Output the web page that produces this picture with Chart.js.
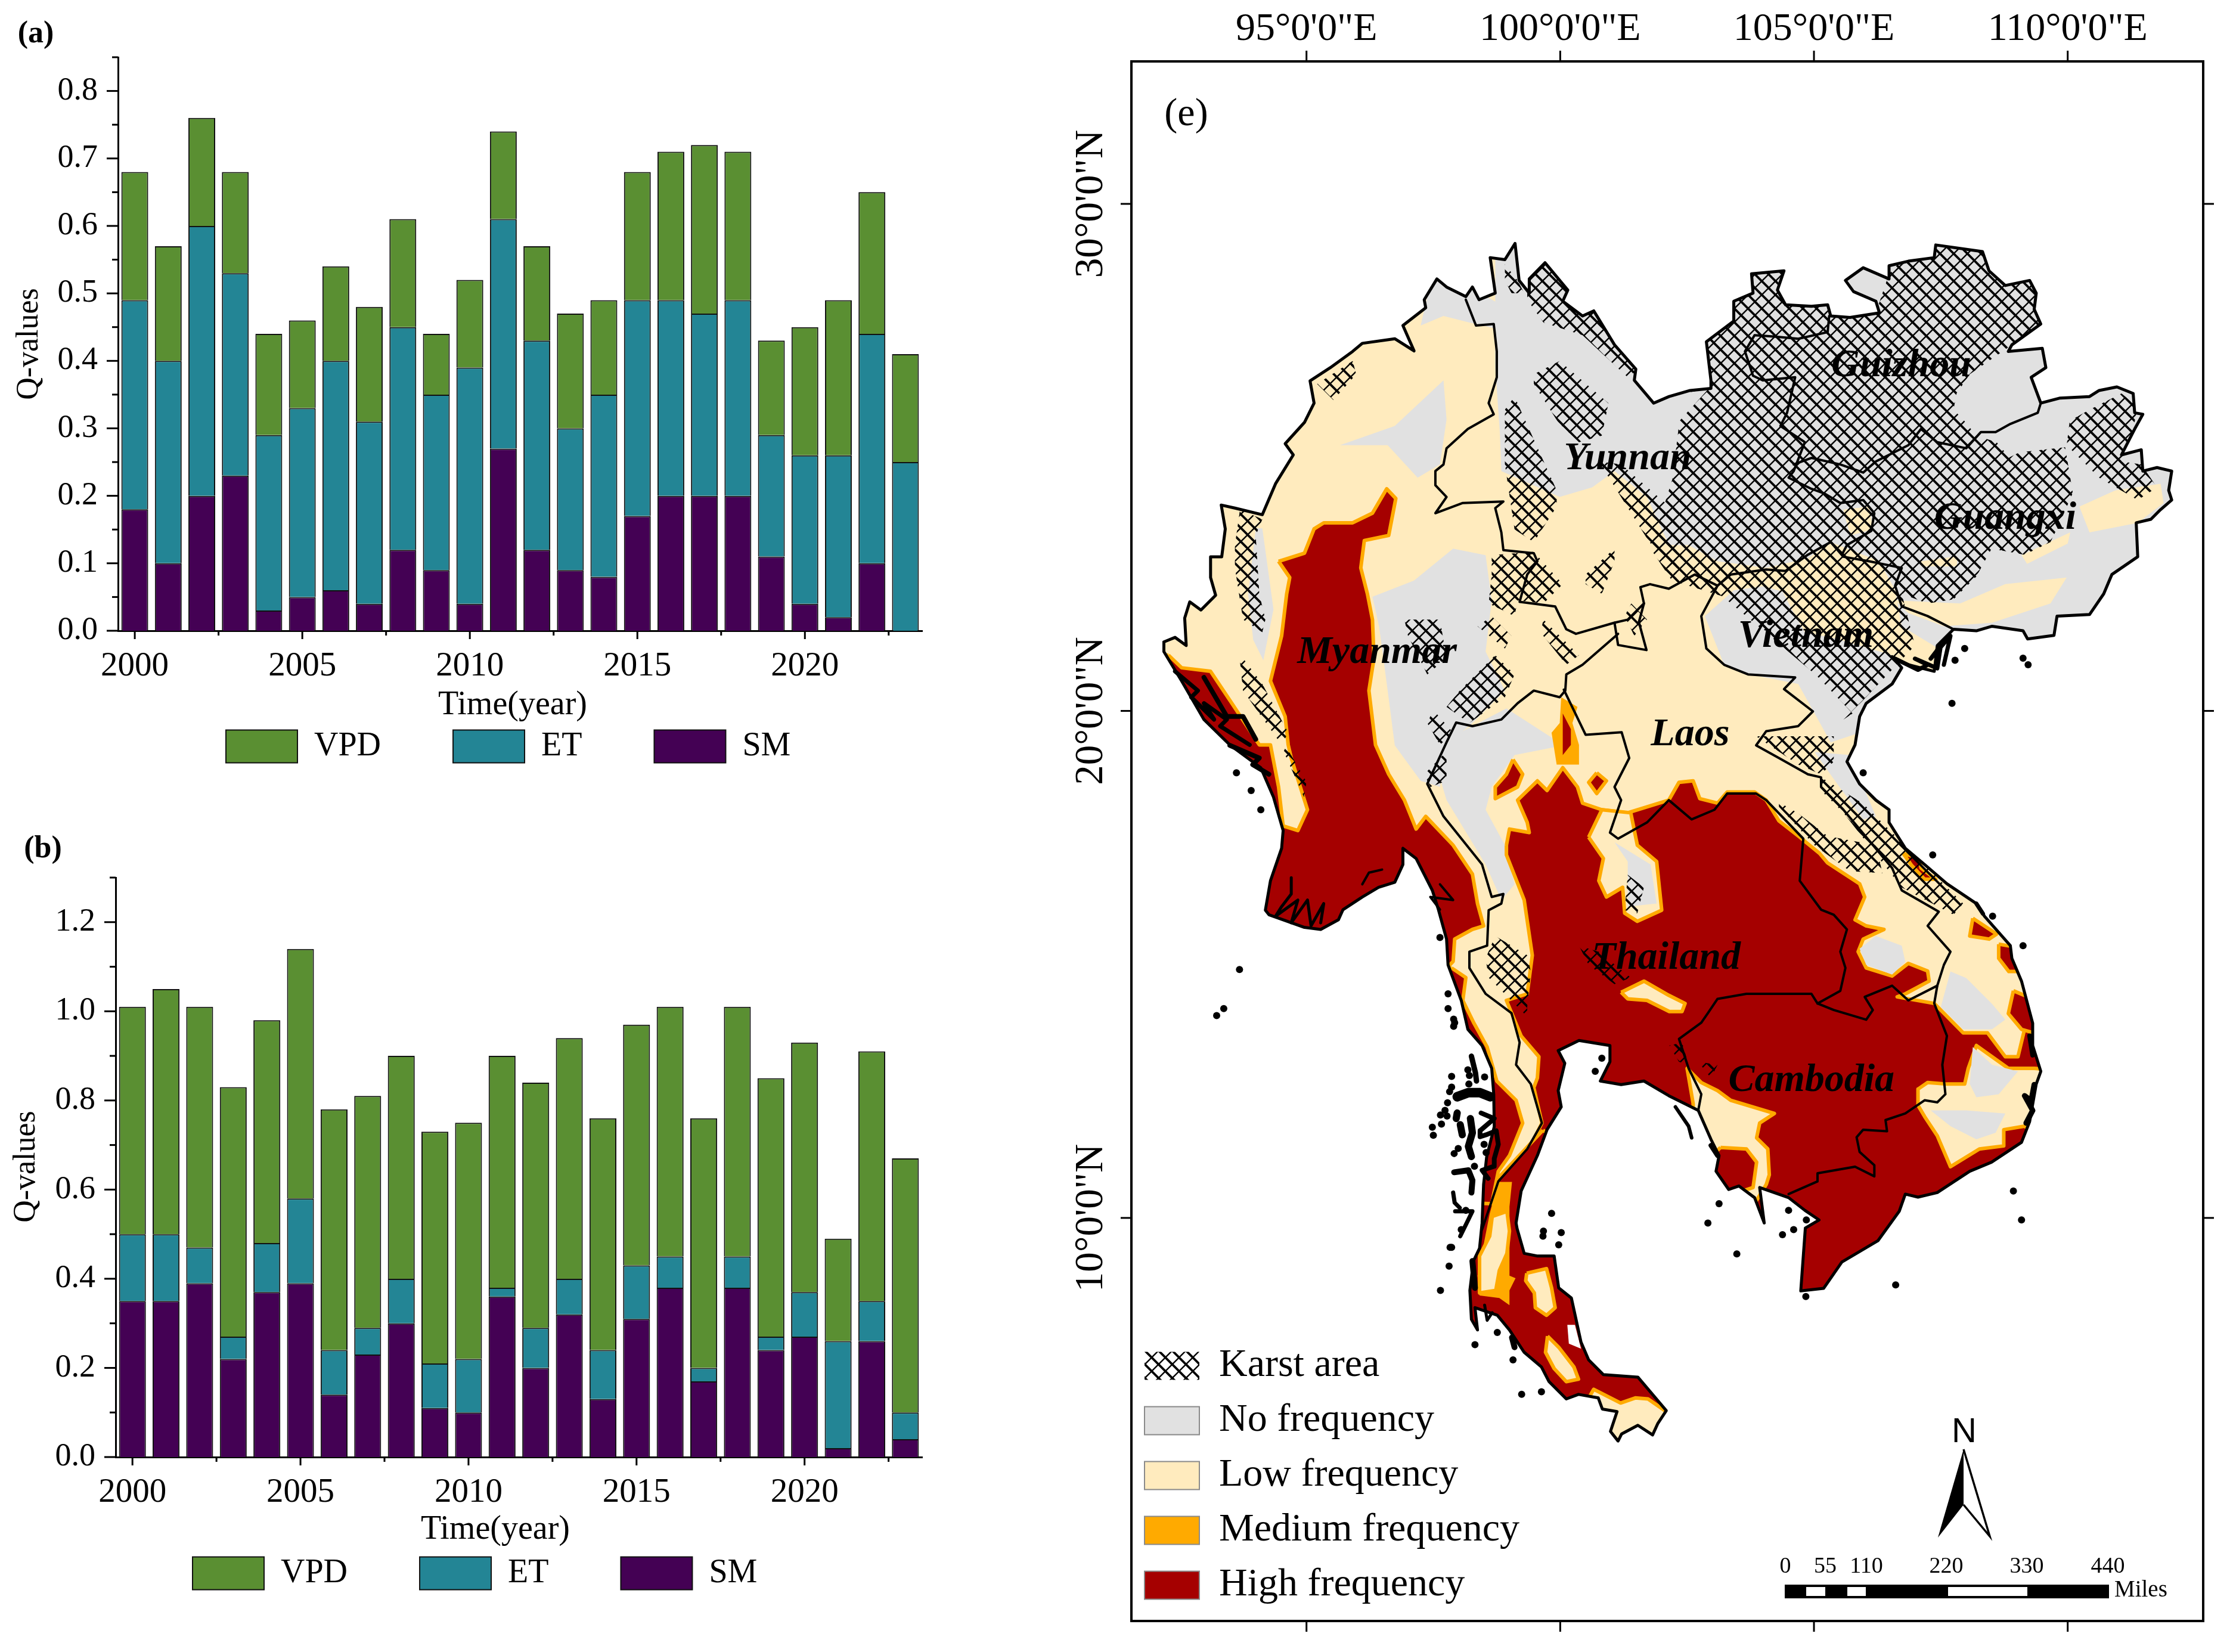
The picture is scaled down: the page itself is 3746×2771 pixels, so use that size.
<!DOCTYPE html>
<html>
<head>
<meta charset="utf-8">
<title>Q-values and drought frequency</title>
<script src="https://cdn.jsdelivr.net/npm/chart.js@4/dist/chart.umd.min.js"></script>
<style>
  html, body { margin: 0; padding: 0; background: #fff; }
  body { width: 3746px; height: 2771px; position: relative; overflow: hidden; }
  canvas { position: absolute; left: 0; top: 0; }
</style>
</head>
<body>
<canvas id="panelA" width="3746" height="2771"></canvas>
<canvas id="panelB" width="3746" height="2771"></canvas>
<canvas id="panelE" width="3746" height="2771"></canvas>
<script>
const years = [2000,2001,2002,2003,2004,2005,2006,2007,2008,2009,2010,2011,2012,2013,2014,2015,2016,2017,2018,2019,2020,2021,2022,2023];

const smA  = [.18,.10,.20,.23,.03,.05,.06,.04,.12,.09,.04,.27,.12,.09,.08,.17,.20,.20,.20,.11,.04,.02,.10,0];
const etA  = [.31,.30,.40,.30,.26,.28,.34,.27,.33,.26,.35,.34,.31,.21,.27,.32,.29,.27,.29,.18,.22,.24,.34,.25];
const vpdA = [.19,.17,.16,.15,.15,.13,.14,.17,.16,.09,.13,.13,.14,.17,.14,.19,.22,.25,.22,.14,.19,.23,.21,.16];

const smB  = [.35,.35,.39,.22,.37,.39,.14,.23,.30,.11,.10,.36,.20,.32,.13,.31,.38,.17,.38,.24,.27,.02,.26,.04];
const etB  = [.15,.15,.08,.05,.11,.19,.10,.06,.10,.10,.12,.02,.09,.08,.11,.12,.07,.03,.07,.03,.10,.24,.09,.06];
const vpdB = [.51,.55,.54,.56,.50,.56,.54,.52,.50,.52,.53,.52,.55,.54,.52,.54,.56,.56,.56,.58,.56,.23,.56,.57];

// map outlines, [lon, lat]
const landOutline = [
  [92.19,21.36],[92.41,21.45],[92.63,21.29],[92.6,21.83],[92.7,22.15],[92.92,21.99],[93.21,22.28],[93.11,22.63],[93.11,23.04],[93.33,23.04],[93.4,23.59],[93.32,24.06],[93.59,24.0],[94.13,23.87],[94.39,24.48],[94.74,25.05],[94.58,25.27],[94.96,25.69],[95.15,26.07],[95.07,26.51],[95.47,26.77],[95.91,27.09],[96.1,27.25],[96.74,27.34],[97.12,27.1],[96.9,27.6],[97.35,27.95],[97.32,28.11],[97.57,28.52],[97.76,28.36],[98.14,28.17],[98.27,28.36],[98.4,28.11],[98.72,28.24],[98.62,28.94],[98.91,28.9],[99.11,29.22],[99.19,28.49],[99.39,28.24],[99.39,28.52],[99.7,28.84],[100.15,28.3],[100.05,28.08],[100.44,27.79],[100.66,27.89],[101.07,27.22],[101.49,26.74],[101.46,26.52],[101.84,26.07],
  [102.145,26.2],[102.56,26.32],[102.97,26.36],[102.97,26.52],[102.88,27.28],[103.42,27.69],[103.42,28.08],[103.8,28.24],[103.77,28.62],[104.41,28.68],[104.28,28.3],[104.44,28.01],[104.95,27.98],[105.27,28.01],[105.33,27.79],[105.71,27.76],[106.29,27.85],[106.22,28.08],[105.78,28.27],[105.62,28.49],[105.97,28.74],[106.48,28.52],[106.48,28.78],[106.86,28.87],[107.37,28.94],[107.4,29.19],[108.32,29.06],[108.45,28.68],[108.77,28.39],[109.25,28.49],[109.38,28.24],[109.34,27.92],[109.47,27.63],[108.9,27.22],[108.83,27.09],[109.5,27.15],[109.57,26.77],[109.28,26.58],[109.47,26.07],[109.85,26.17],[110.43,26.2],[110.62,26.32],[110.97,26.39],[111.29,26.26],[111.32,25.88],[111.48,25.85],[111.32,25.56],[111.06,25.05],[111.45,25.15],[111.48,24.73],[111.76,24.8],[112.05,24.73],[111.99,24.35],[112.05,24.16],[111.83,23.97],[111.64,23.78],[111.35,23.71],[111.38,23.04],[110.87,22.69],[110.71,22.31],[110.43,21.9],[109.79,21.87],[109.73,21.49],[109.21,21.42],[109.12,21.58],[108.51,21.67],[108.2,21.58],[107.75,21.61],[107.43,21.29],[107.37,20.78],[106.86,20.91],[106.54,21.07],[106.73,20.85],[106.54,20.53],[106.03,20.15],[105.9,19.89],[105.81,19.33],
  [105.65,19.0],[105.9,18.56],[106.22,18.24],[106.48,18.05],[106.48,17.8],[106.8,17.29],[107.18,16.97],[107.62,16.59],[108.2,16.2],[108.36,15.95],[108.87,15.37],[108.9,15.12],[109.09,14.67],[109.31,13.84],[109.31,13.4],[109.47,12.89],[109.38,12.64],[109.25,11.9],[109.09,11.49],[108.5,11.1],[108.07,10.92],[107.43,10.5],[107.05,10.41],[106.8,10.47],[106.68,10.13],[106.26,9.55],[105.55,9.13],[105.19,8.61],[104.74,8.56],[104.83,9.8],[105.1,9.96],[104.82,10.15],[104.5,10.4],[103.93,10.6],[104.02,9.9],[103.83,10.4],[103.52,10.63],[103.32,10.56],[103.07,10.92],[103.13,11.23],[102.97,11.55],[102.72,12.12],[102.14,12.41],
  [101.65,12.7],[101.2,12.63],[100.79,12.7],[100.98,13.08],[100.98,13.4],[100.37,13.5],[99.96,13.3],[100.09,13.05],[99.96,12.51],[100.02,12.19],[99.74,11.74],[99.55,11.23],[99.23,10.53],[99.13,9.9],[99.15,9.79],[99.29,9.3],[99.54,9.25],[99.88,9.25],[99.97,8.62],[100.22,8.42],[100.41,7.55],[100.56,7.2],[100.85,6.91],[101.53,6.86],[102.09,6.2],[101.92,5.94],[101.82,5.72],[101.53,5.91],[101.21,5.74],[101.14,5.6],[100.99,5.79],[101.12,6.18],[100.83,6.23],[100.75,6.45],[100.36,6.52],[100.12,6.43],[99.78,6.77],[99.63,7.06],[99.29,7.35],[99.0,7.79],[98.76,8.08],[98.32,8.23],[98.37,7.79],[98.25,8.0],[98.22,8.57],[98.29,9.15],[98.41,9.4],[98.46,9.9],[98.49,10.66],[98.55,11.2],[98.7,11.8],[98.69,12.44],
  [98.65,12.95],[98.46,13.4],[98.18,13.72],[98.05,14.29],[97.79,14.99],[97.76,15.5],[97.6,16.08],[97.48,16.46],[97.16,17.09],[96.9,17.29],[96.9,16.97],[96.74,16.62],[96.42,16.52],[96.1,16.33],[95.72,16.08],[95.63,15.88],[95.28,15.69],[94.96,15.73],[94.26,15.98],[94.19,16.07],[94.29,16.65],[94.51,17.29],[94.54,17.64],[94.35,18.3],[94.1,18.88],[93.49,19.33],[92.98,19.83],[92.54,20.59],[92.19,21.17]
];
const countryLines = [
  [[98.14,28.11],[98.34,27.6],[98.69,27.63],[98.75,27.09],[98.75,26.58],[98.59,26.07],[98.69,25.85],[98.18,25.56],[97.76,25.18],[97.7,24.86],[97.54,24.73],[97.54,24.45],[97.76,24.22],[97.54,23.9],[98.08,24.1],[98.88,24.13],[98.72,24.0],[98.84,23.52],[98.88,23.17],[99.48,23.11],[99.55,22.95],[99.35,22.69],[99.2,22.15],[99.9,22.06],[100.12,21.61],[100.31,21.52],[101.07,21.74],[101.33,21.8],[101.65,22.12],[101.58,22.44],[101.77,22.5],[102.14,22.41],[102.65,22.69],[103.1,22.47],[103.36,22.69],[104.06,22.79],[104.44,22.76],[104.88,23.08],[105.33,23.33],[105.58,23.04],[106.09,22.95],[106.73,22.82],[106.6,22.47],[106.73,22.06],[107.24,21.87],[107.75,21.61]],
  [[101.07,21.74],[101.14,21.3],[101.7,21.2],[101.55,21.75],[101.65,22.12]],
  [[101.14,21.52],[100.44,20.91],[100.12,20.72],[100.1,20.4],[99.99,20.27],[99.48,20.4],[99.16,20.15],[98.84,19.83],[98.27,19.7],[97.95,19.77],[97.76,19.38],[97.38,18.56],[97.7,17.92],[98.46,16.97],[98.65,16.33],[98.88,16.39],[98.84,16.2],[98.59,16.07],[98.56,15.37],[98.21,15.25],[98.21,14.93],[98.53,14.42],[99.04,14.04],[99.2,13.46],[99.13,13.02],[99.42,12.64],[99.64,11.87],[99.35,11.36],[98.78,10.72],[98.46,9.77]],
  [[100.07,20.42],[100.5,19.53],[101.21,19.58],[101.36,19.07],[101.07,18.5],[101.2,18.24],[100.98,17.6],[101.14,17.48],[101.71,17.8],[102.14,18.24],[102.59,17.86],[103.04,18.05],[103.29,18.37],[103.86,18.37],[104.06,18.24],[104.79,17.48],[104.72,16.65],[105.14,16.08],[105.39,15.98],[105.65,15.69],[105.52,15.25],[105.62,14.93],[105.52,14.48],[105.07,14.23]],
  [[105.07,14.23],[104.95,14.42],[103.67,14.42],[103.1,14.32],[102.91,14.04],[102.78,13.85],[102.34,13.53],[102.53,12.95],[102.78,12.44],[102.72,12.12]],
  [[105.07,14.23],[105.39,14.1],[106.03,13.91],[106.16,14.1],[106.0,14.36],[106.54,14.58],[106.86,14.29],[107.43,14.58]],
  [[107.43,14.58],[107.56,14.99],[107.69,15.25],[107.24,15.76],[107.46,16.04],[107.18,16.2],[106.73,16.46],[106.54,16.9],[105.58,18.05],[105.14,18.5],[105.14,18.69],[104.88,18.75],[104.31,19.07],[103.86,19.32],[104.06,19.6],[104.69,19.7],[104.98,19.99],[104.41,20.43],[104.63,20.66],[103.7,20.72],[103.23,20.91],[102.88,21.23],[102.78,21.87],[103.1,22.47]],
  [[107.43,14.58],[107.37,14.23],[107.62,13.59],[107.53,13.02],[107.59,12.44],[107.43,12.28],[107.18,12.32],[106.8,12.06],[106.41,11.93],[106.44,11.71],[105.97,11.74],[105.84,11.59],[105.9,11.3],[106.19,11.04],[106.19,10.82],[105.81,11.01],[105.07,10.88],[105.07,10.72],[104.5,10.47]],
  [[105.3,27.79],[105.27,27.47],[104.69,27.34],[104.25,27.38],[103.83,27.41],[103.64,27.09],[103.8,26.61],[103.99,26.52],[104.63,26.58],[104.47,25.88],[104.34,25.62],[104.82,25.3],[104.6,24.73],[104.5,24.6],[104.95,24.38],[105.2,24.29],[105.52,24.1],[105.97,24.16],[106.19,23.9],[106.13,23.55],[105.65,23.27],[105.55,23.08]],
  [[104.6,24.86],[104.95,24.99],[105.52,24.86],[105.97,24.7],[106.22,24.92],[106.86,25.24],[107.11,25.56],[107.43,25.3],[108.0,25.18],[108.29,25.5],[108.58,25.5],[108.87,25.66],[109.41,25.88],[109.47,26.07]]
];
const noFreqAreas = [
  [[98.72,29.6],[98.72,26.77],[98.81,25.5],[98.84,24.73],[99.99,24.22],[100.63,24.41],[101.07,24.73],[101.71,24.22],[102.14,23.27],[102.53,23.27],[103.1,22.95],[104.06,22.82],[104.88,23.01],[105.33,23.33],[106.29,22.95],[106.6,22.38],[106.73,21.67],[108,20.9],[113,21],[113,29.6]],
  [[102.85,21.87],[103.42,22.38],[104.31,22.5],[104.57,21.99],[104.82,21.55],[105.46,21.42],[106.54,21.1],[106.8,20.85],[106.54,20.27],[105.9,19.57],[105.33,19.38],[104.69,20.53],[103.74,20.72],[103.23,20.91]],
  [[105.01,19.19],[105.71,19.13],[106.22,17.92],[105.97,17.86],[105.46,18.56]],
  [[96.3,22.25],[97.12,22.57],[97.89,23.2],[98.53,23.07],[98.65,22.18],[98.53,21.17],[98.91,20.4],[98.27,19.76],[97.76,19.33],[97.63,18.5],[97.25,18.62],[96.74,19.32],[96.6,20.4],[96.43,21.67]],
  [[95.66,25.24],[96.74,25.62],[97.7,26.52],[97.76,25.75],[97.63,24.86],[97.19,24.6],[96.6,25.24]],
  [[97.25,27.6],[97.38,28.17],[97.63,28.62],[98.21,28.36],[98.78,28.04],[98.78,27.53],[98.21,27.66],[97.7,27.79]],
  [[94.0,23.6],[94.13,23.6],[94.35,22.0],[94.15,21.0],[93.95,21.4],[93.85,22.3]],
  [[97.44,19.32],[97.76,18.24],[98.53,16.97],[98.84,16.27],[99.1,16.58],[98.91,17.35],[98.53,18.05],[98.65,18.5],[99.1,19.13],[100.07,19.32],[98.94,20.05],[97.94,19.53]]
];
const lowOnGrey = [
  [[110.23,24.03],[110.94,24.35],[111.83,24.48],[111.89,24.1],[111.38,23.71],[110.43,23.52]],
  [[106.6,22.18],[107.88,22.12],[108.77,22.5],[109.98,22.63],[109.66,22.12],[108.51,21.74],[107.56,21.67],[106.86,21.93]],
  [[107.11,22.95],[107.82,23.05],[107.82,22.85],[107.11,22.85]],
  [[109.09,23.07],[109.79,23.4],[110.05,23.52],[110.0,23.3],[109.2,22.9]],
  [[103.61,22.57],[104.82,22.95],[105.52,22.95],[106.22,22.31],[106.6,21.67],[106.6,21.23],[106.09,21.23],[105.46,21.55],[104.82,21.8],[104.57,22.31],[104.06,22.44]],
  [[105.58,23.97],[106.09,24.03],[106.16,23.58],[105.71,23.46]]
];
const highAreas = [
  [[94.45,22.95],[94.96,23.11],[95.15,23.59],[95.34,23.71],[95.91,23.71],[96.3,23.9],[96.58,24.38],[96.76,24.19],[96.62,23.46],[96.14,23.36],[96.07,22.82],[96.2,22.31],[96.3,21.8],[96.33,21.04],[96.23,20.4],[96.36,19.33],[96.62,18.75],[96.93,18.24],[97.16,17.67],[97.35,17.92],[97.89,17.35],[98.27,16.78],[98.37,16.2],[98.49,15.76],[98.27,15.69],[97.92,15.5],[97.89,15.06],[97.7,14.86],[96.62,15.5],[94.07,15.5],[93.94,16.77],[94.07,17.22],[94.54,17.73],[94.83,17.64],[95.02,18.05],[94.7,19.07],[94.64,19.33],[94.58,19.89],[94.29,20.59],[94.51,21.48],[94.61,22.31],[94.67,22.63]],
  [[92.28,21.1],[92.54,20.85],[93.11,20.78],[93.49,20.21],[94.07,19.33],[94.29,19.33],[94.45,18.5],[94.54,17.73],[94.0,17.8],[93,18.5],[92,20.5],[92,21.1]],
  [[98.94,17.35],[99.0,17.67],[99.39,17.6],[99.35,17.8],[99.16,18.24],[99.55,18.62],[99.74,18.43],[100.05,18.88],[100.34,18.5],[100.44,18.18],[100.82,18.05],[101.33,17.99],[102.14,18.24],[102.34,18.59],[102.62,18.62],[102.75,18.27],[103.1,18.18],[103.29,18.4],[103.83,18.4],[104.06,18.24],[104.31,17.83],[104.72,17.51],[105.11,17.19],[105.27,17.0],[105.9,16.59],[106.0,16.33],[105.81,15.88],[106.03,15.76],[106.38,15.69],[105.97,15.5],[105.87,15.25],[106.03,14.93],[106.54,14.77],[106.86,15.02],[107.24,14.87],[107.27,14.67],[106.8,14.42],[106.64,14.36],[107.37,14.23],[107.94,13.65],[108.42,13.65],[108.77,13.18],[109.02,13.18],[109.15,13.72],[110.1,13.27],[110.1,12.89],[109.34,12.95],[108.83,12.95],[108.2,13.4],[108.04,12.95],[107.97,12.64],[107.62,12.64],[107.24,12.67],[107.05,12.54],[107.05,12.22],[107.18,12.0],[107.43,11.62],[107.69,11.01],[108.26,11.36],[108.74,11.42],[108.74,11.74],[109.15,11.81],[109.79,11.36],[109.79,8.5],[104,8],[103.6,9.9],[104.06,10.66],[104.12,10.85],[104.09,11.36],[103.87,11.58],[103.93,11.87],[104.22,12.06],[103.36,12.32],[103.1,12.51],[102.78,12.67],[102.5,12.95],[102.62,12.25],[102.62,12.0],[100.3,12.0],[99.9,11.2],[99.4,10.2],[99.0,10.2],[99.1,10.4],[99.1,10.79],[99.35,11.3],[99.64,11.87],[99.48,12.57],[99.55,12.76],[99.58,13.18],[99.23,13.59],[98.94,14.29],[99.35,14.42],[99.45,15.18],[99.29,16.27],[98.94,17.16]],
  [[99.66,11.73],[100.27,11.3],[100.27,8.86],[101.24,7.4],[102.46,6.28],[102.09,6.18],[101.73,6.43],[101.48,6.45],[101.19,6.35],[100.66,6.62],[100.27,5.94],[98.8,6.9],[98.07,7.9],[98.07,9.35],[98.07,10.81],[98.46,10.9],[98.8,10.81]],
  [[97.86,14.93],[98.14,14.74],[98.08,14.29],[98.3,13.84],[98.56,13.37],[98.75,12.7],[99.13,12.32],[99.26,11.87],[99.0,11.23],[98.78,10.92],[98.65,10.28],[98,10.3],[97.5,13],[97.3,15]],
  [[103.16,11.39],[103.67,11.36],[103.87,11.1],[103.8,10.6],[103.23,10.41],[102.78,11.04]],
  [[106.76,17.19],[107.08,17.09],[107.11,16.9],[107.4,16.68],[107.18,16.68],[106.92,16.96]],
  [[108.13,15.91],[108.6,15.6],[108.45,15.5],[108.07,15.56]],
  [[108.64,15.4],[109.2,15.3],[109.1,14.86],[108.84,14.86],[108.64,15.12]],
  [[108.93,14.48],[109.6,14.2],[109.5,13.6],[109.09,13.72],[108.83,14.03]],
  [[99.07,19.04],[99.26,18.75],[99.16,18.5],[98.72,18.27],[98.72,18.5],[98.94,18.75]],
  [[100.72,18.78],[100.91,18.62],[100.72,18.37],[100.56,18.59]]
];
const mediumAreas = [
  [[98.78,10.71],[99.05,10.71],[99.0,10.22],[99,9.35],[99.0,8.86],[99.12,8.81],[99,8.57],[99,8.28],[98.8,8.42],[98.41,8.47],[98.37,8.86],[98.61,10.08]],
  [[100.02,20.27],[100.34,20.08],[100.24,19.76],[100.37,19.33],[100.37,18.94],[99.93,18.94],[99.83,19.57],[99.99,19.76]]
];
const highInner = [
  [[100.05,19.95],[100.21,19.64],[100.21,19.33],[100.05,19.13],[100.05,19.51]]
];
const lowInHigh = [
  [[98.66,10.03],[98.95,10.13],[99.0,9.74],[98.95,9.3],[98.8,8.96],[98.73,8.57],[98.41,8.52],[98.41,9.25],[98.61,9.64]],
  [[99.34,8.91],[99.73,9.0],[99.83,8.62],[99.9,8.23],[99.73,8.08],[99.51,8.23],[99.49,8.52],[99.32,8.76]],
  [[99.75,7.67],[99.97,7.45],[100.27,7.06],[100.36,6.82],[100.12,6.77],[99.88,7.03],[99.71,7.35]],
  [[100.56,17.51],[100.85,17.09],[100.76,16.65],[100.91,16.33],[101.23,16.52],[101.27,16.01],[101.52,15.85],[102.0,16.07],[101.9,17.03],[101.52,17.35],[101.39,17.99],[100.82,18.05]],
  [[101.2,14.45],[101.65,14.67],[102.14,14.39],[102.46,14.23],[102.4,14.07],[102.15,14.07],[101.71,14.29],[101.33,14.32]]
];
const noFreqPatches = [
  [[101.07,17.41],[101.78,16.97],[101.9,16.2],[101.33,16.14],[101.33,17.03]],
  [[105.9,15.31],[106.22,15.56],[106.73,15.37],[106.8,15.05],[106.54,14.8],[106.03,14.99]],
  [[107.69,14.86],[108.0,14.73],[108.51,14.22],[108.77,13.91],[108.51,13.72],[107.94,13.72],[107.5,14.16]],
  [[108.13,13.37],[108.51,13.02],[109.02,12.89],[108.64,12.44],[108.2,12.38],[108.07,12.64]],
  [[107.3,12.12],[108.0,12.12],[108.77,12.06],[108.58,11.68],[108.2,11.55],[107.69,11.81]]
];
const noDataPatch = [[100.14,7.89],[100.29,7.89],[100.41,7.42],[100.17,7.52]];
const karstAreas = [
  [[102.4,26.26],[102.78,27.73],[103.61,28.94],[104.69,28.94],[105.46,27.92],[106.22,27.85],[106.35,28.24],[106.48,28.62],[107.24,29.45],[109.79,29.45],[109.79,27.73],[108.9,27.22],[108.07,26.64],[107.81,26.26],[107.75,25.94],[107.94,25.75],[108.2,25.43],[108.6,25.3],[108.85,25.0],[109.05,25.1],[109.95,25.2],[110.1,24.3],[109.85,23.72],[109.66,23.33],[109.15,23.08],[108.5,23.2],[108.2,22.65],[107.75,22.2],[107.24,22.12],[106.73,22.31],[106.99,21.29],[105.97,20.21],[105.58,19.83],[105.76,19.95],[105.05,20.7],[104.2,21.42],[103.2,22.26],[102.2,22.57],[101.78,23.2],[102.21,24.57],[102.35,25.72],[102.92,26.35]],
  [[110.04,25.72],[110.43,25.94],[111.06,26.26],[111.38,26.0],[111.25,25.37],[111.06,24.92],[111.45,24.86],[111.76,24.41],[111.38,24.16],[110.62,24.6],[109.98,25.24]],
  [[99.35,28.49],[99.74,28.94],[100.18,28.3],[100.44,27.85],[100.69,27.92],[101.52,26.71],[101.33,26.58],[100.44,27.41],[99.67,27.66],[99.35,28.11]],
  [[99.48,26.64],[99.99,26.9],[100.95,26.07],[100.82,25.43],[100.37,25.3],[99.96,25.69],[99.48,26.45]],
  [[98.91,28.81],[99.16,28.49],[99.29,28.24],[99.04,28.24],[98.91,28.49]],
  [[98.91,25.94],[99.1,26.2],[99.93,24.35],[99.93,24.03],[99.48,23.33],[99.1,23.58],[98.91,24.86]],
  [[100.76,24.92],[101.2,24.86],[102.3,23.9],[102.3,22.6],[101.71,23.4]],
  [[98.65,23.07],[99.48,23.14],[100.05,22.5],[99.67,22.12],[99.16,22.18],[99.1,21.87],[98.59,22.12],[98.65,22.69]],
  [[98.37,21.67],[98.65,21.87],[99.04,21.48],[98.91,21.23]],
  [[98.72,21.1],[99.1,20.72],[98.91,20.27],[98.21,19.76],[97.76,20.08],[98.02,20.4]],
  [[97.5,20.02],[97.89,19.57],[97.63,19.33],[97.38,19.76]],
  [[96.93,21.8],[97.63,21.8],[97.76,21.04],[97.38,20.72],[97,21.48]],
  [[100.5,22.69],[101.07,23.2],[101.07,22.95],[100.82,22.31],[100.5,22.5]],
  [[99.67,21.8],[100.37,21.1],[100.12,20.91],[99.61,21.55]],
  [[101.4,22.12],[101.71,21.8],[101.46,21.48],[101.27,21.87]],
  [[93.69,23.97],[94.13,23.78],[94.0,23.46],[94.07,22.31],[94.19,21.8],[94.13,21.55],[93.75,21.8],[93.59,22.82],[93.59,23.27]],
  [[93.75,21.04],[94.13,20.53],[94.64,19.57],[94.51,19.33],[93.75,20.4],[93.69,20.97]],
  [[94.6,19.3],[95.0,18.6],[94.95,18.3],[94.55,19.2]],
  [[95.21,26.45],[95.91,26.9],[95.98,26.64],[95.53,26.13]],
  [[104.31,18.2],[104.69,17.98],[105.27,17.53],[106.22,17.35],[106.35,16.8],[105.71,16.84],[105.27,17.16],[105.01,17.35],[104.31,18.11]],
  [[105.14,18.69],[105.97,18.17],[106.41,17.73],[107.94,16.2],[107.75,15.98],[106.73,16.52],[105.58,17.99],[105.14,18.43]],
  [[103.86,19.5],[105.39,19.5],[105.39,19.0],[105.14,18.75],[104.69,18.94]],
  [[98.53,15.12],[98.72,15.56],[99.35,15.18],[99.42,14.86],[99.35,14.16],[99.35,13.97],[98.59,14.74]],
  [[100.37,15.37],[100.76,15.25],[101.39,14.74],[101.07,14.61],[100.56,14.99]],
  [[101.33,16.77],[101.65,16.52],[101.52,16.01],[101.27,16.07]],
  [[102.15,13.4],[102.4,13.46],[102.53,13.02],[102.34,13.08]],
  [[102.72,13.08],[103.1,13.02],[102.97,12.76]],
  [[97.32,18.75],[97.76,19.2],[97.76,18.62],[97.44,18.5]]
];
// small islands and broken coast, drawn as short thick chains
const coastClutterWidths = [7,8,8,5,4,4,9,16,12,12,12,8,10,7,7,10,5,10,6,8,7,9,8,7];
const coastClutter = [
  [[92.41,20.78],[92.86,20.4],[92.73,20.27],[93.18,19.83],[92.98,20.15],[93.43,19.83],[93.3,19.7],[93.88,19.33]],
  [[92.98,20.66],[93.43,19.89],[93.75,19.89],[94.0,19.44]],
  [[93.49,19.32],[94.07,19.07],[93.94,18.94],[94.26,18.75]],
  [[94.7,16.71],[94.7,16.39],[94.51,16.14],[94.39,15.95],[94.83,16.27],[94.7,15.82],[95.02,16.27],[95.09,15.76],[95.34,16.2],[95.28,15.82]],
  [[96.1,16.58],[96.23,16.81],[96.49,16.87]],
  [[97.63,16.58],[97.89,16.27],[97.44,16.33],[97.63,16.08]],
  [[98.25,13.19],[98.33,12.86],[98.35,12.7]],
  [[97.97,12.39],[98.19,12.47],[98.42,12.47],[98.62,12.39]],
  [[97.97,12.07],[97.95,11.96]],
  [[98.03,11.84],[98.07,11.64]],
  [[98.23,11.96],[98.27,11.68],[98.19,11.41],[98.25,11.21]],
  [[98.44,12.07],[98.7,11.96],[98.42,11.72],[98.42,11.6],[98.54,11.64],[98.74,11.72],[98.78,11.45],[98.7,11.17],[98.7,11.02],[98.46,10.94],[98.58,10.78]],
  [[97.91,10.9],[98.19,10.94],[98.27,10.74],[98.25,10.5]],
  [[97.89,10.5],[97.92,10.3],[98.02,10.2]],
  [[97.93,10.13],[98.27,10.13],[98.03,9.64]],
  [[98.27,9.15],[98.32,8.62]],
  [[98.51,8.28],[98.56,7.98],[98.66,8.13]],
  [[99.05,7.64],[99.1,7.45]],
  [[102.27,12.19],[102.53,11.81],[102.59,11.58]],
  [[102.97,11.43],[103.1,11.23]],
  [[106.6,21.03],[107.05,20.81],[107.24,20.91],[106.99,21.03],[107.43,20.84],[107.5,21.29],[107.3,21.03],[107.69,21.48],[107.56,20.91]],
  [[109.34,12.63],[109.28,12.31],[109.15,12.41],[109.31,12.12],[109.18,11.87]],
  [[109.25,13.59],[109.31,13.21]],
  [[108.2,16.2],[108.33,16.0]]
];
const islands = [
  [93.68,14.9],[93.37,14.13],[93.23,13.99],[97.63,15.53],[97.79,14.42],[97.79,14.13],[97.92,13.85],[97.9,13.92],[97.9,13.78],[97.86,12.79],[97.82,12.49],[97.86,12.58],[97.78,12.27],[97.73,12.12],[97.64,12.03],[97.77,12.01],[97.66,11.85],[97.48,11.79],[97.5,11.63],[98.18,12.92],[98.21,12.81],[98.2,12.64],[98.51,12.78],[97.99,11.37],[97.91,11.27],[98.54,11.29],[98.5,11.45],[98.31,11.02],[98.14,10.15],[98.05,9.77],[97.83,9.42],[99.83,10.09],[99.67,9.74],[100.02,9.71],[100.82,13.15],[100.69,12.89],[93.91,18.43],[94.1,18.05],[93.62,18.78],[97.86,9.42],[97.81,9.05],[97.64,8.57],[98.76,7.74],[98.32,7.5],[99.07,7.2],[99.24,6.52],[99.63,6.57],[99.66,9.64],[99.97,9.47],[108.93,10.53],[109.09,9.96],[108.52,15.95],[109.12,15.37],[107.34,17.16],[105.97,18.78],[102.91,9.9],[103.13,10.28],[104.38,9.67],[104.6,9.77],[104.85,9.96],[104.5,10.15],[106.61,8.68],[103.48,9.29],[104.84,8.45],[109.12,21.04],[109.22,20.91],[107.72,20.15],[107.97,21.23],[107.78,21.0]
];
const placeNames = ['Myanmar','Yunnan','Guizhou','Guangxi','Vietnam','Laos','Thailand','Cambodia'];
const placeLon = [96.39,101.33,106.72,108.77,104.84,102.56,102.09,104.95];
const placeLat = [21.15,24.97,26.8,23.79,21.46,19.52,15.11,12.7];
const lonTicks = [95,100,105,110];
const latTicks = [10,20,30];
const mapLegendNames = ['Karst area','No frequency','Low frequency','Medium frequency','High frequency'];
const scaleBarLabels = ['0','55','110','220','330','440'];

const GREEN = '#5a8f32', TEAL = '#238595', PURPLE = '#440154';
const GREY = '#e1e1e1', CREAM = '#ffebbe', ORANGE = '#ffaa00', RED = '#a50000';
const SERIF = '"Liberation Serif"';

// keeps the legend where the figure has it and above the datasets
function placeLegend(left, top) {
  return {
    id: 'placeLegend',
    beforeLayout(chart) {
      const l = chart.legend;
      l._layers = () => [{ z: 5, draw() { l.draw(); } }];
    },
    afterLayout(chart) {
      const l = chart.legend;
      l.left = left; l.top = top; l.right = chart.width; l.bottom = chart.height;
    }
  };
}

function tickMarks(sides) {
  return {
    id: 'tickMarks',
    afterDraw(chart) {
      const ctx = chart.ctx, a = chart.chartArea;
      ctx.save();
      ctx.strokeStyle = '#000';
      ctx.lineWidth = 3;
      sides.forEach(s => {
        const scale = chart.scales[s.axis];
        scale.ticks.forEach(t => {
          const p = scale.getPixelForValue(t.value);
          const len = t.label !== '' ? s.long : s.short;
          ctx.beginPath();
          if (s.edge === 'bottom') { ctx.moveTo(p, a.bottom); ctx.lineTo(p, a.bottom + len); }
          if (s.edge === 'top') { ctx.moveTo(p, a.top); ctx.lineTo(p, a.top - len); }
          if (s.edge === 'left') { ctx.moveTo(a.left, p); ctx.lineTo(a.left - len, p); }
          if (s.edge === 'right') { ctx.moveTo(a.right, p); ctx.lineTo(a.right + len, p); }
          ctx.stroke();
        });
      });
      ctx.restore();
    }
  };
}

function notes(items) {
  return {
    id: 'notes',
    afterDraw(chart) {
      const ctx = chart.ctx;
      items.forEach(n => {
        ctx.save();
        ctx.translate(n.x, n.y);
        if (n.rot) ctx.rotate(n.rot);
        ctx.font = n.font;
        ctx.fillStyle = '#000';
        ctx.textAlign = 'center';
        ctx.textBaseline = 'middle';
        ctx.fillText(n.text, 0, 0);
        ctx.restore();
      });
    }
  };
}

function barPanel(id, sm, et, vpd, box, yMax, yStep, everyLabel, legendAt, extra) {
  const pts = arr => arr.map((v, i) => ({ x: years[i], y: v }));
  const style = c => ({ backgroundColor: c, borderColor: '#111', borderWidth: 2, categoryPercentage: 1, barPercentage: 0.8 });
  return new Chart(document.getElementById(id), {
    type: 'bar',
    data: {
      datasets: [
        { label: 'SM', data: pts(sm), ...style(PURPLE) },
        { label: 'ET', data: pts(et), ...style(TEAL) },
        { label: 'VPD', data: pts(vpd), ...style(GREEN) }
      ]
    },
    options: {
      responsive: false,
      animation: false,
      devicePixelRatio: 1,
      layout: { padding: { left: 0, top: box.top, right: 3746 - box.right, bottom: box.padBottom } },
      plugins: {
        tooltip: { enabled: false },
        legend: {
          position: 'bottom',
          align: 'start',
          reverse: true,
          labels: { boxWidth: 120, boxHeight: 55, padding: 121, color: '#000', font: { family: SERIF, size: 56 } }
        }
      },
      scales: {
        x: {
          type: 'linear', stacked: true, min: 1999.5, max: 2023.5, offset: false,
          afterFit: s => { s.height = 80; },
          grid: { display: false, drawTicks: false, offset: false },
          border: { color: '#000', width: 3 },
          ticks: {
            stepSize: 2.5, includeBounds: false, autoSkip: false, maxRotation: 0, padding: 26,
            color: '#000', font: { family: SERIF, size: 57 },
            callback: v => (v % 5 === 0 ? String(v) : '')
          }
        },
        y: {
          stacked: true, min: 0, max: yMax,
          afterFit: s => { s.width = box.left; },
          grid: { display: false, drawTicks: false },
          border: { color: '#000', width: 3 },
          ticks: {
            stepSize: yStep, autoSkip: false, padding: 34,
            color: '#000', font: { family: SERIF, size: 54 },
            callback: v => {
              const n = Math.round(v / yStep);
              return n % everyLabel === 0 ? v.toFixed(1) : '';
            }
          }
        }
      }
    },
    plugins: [
      placeLegend(legendAt[0], legendAt[1]),
      tickMarks([{ axis: 'x', edge: 'bottom', long: 14, short: 8 }, { axis: 'y', edge: 'left', long: 19, short: 10 }]),
      notes(extra)
    ]
  });
}

barPanel('panelA', smA, etA, vpdA, { left: 198, right: 1547, top: 96, padBottom: 1446 }, 0.85, 0.05, 2, [258, 1103], [
  { text: '(a)', x: 60, y: 58, font: 'bold 52px ' + SERIF },
  { text: 'Q-values', x: 49, y: 577, rot: -Math.PI / 2, font: '52px ' + SERIF },
  { text: 'Time(year)', x: 860, y: 1183, font: '56px ' + SERIF }
]);

barPanel('panelB', smB, etB, vpdB, { left: 194, right: 1547, top: 1472, padBottom: 60 }, 1.3, 0.1, 2, [202, 2490], [
  { text: '(b)', x: 72, y: 1425, font: 'bold 52px ' + SERIF },
  { text: 'Q-values', x: 44, y: 1957, rot: -Math.PI / 2, font: '52px ' + SERIF },
  { text: 'Time(year)', x: 831, y: 2566, font: '56px ' + SERIF }
]);

// ---- map panel ----
function hatchPattern(ctx) {
  const size = 23;
  const tile = document.createElement('canvas');
  tile.width = tile.height = size;
  const c = tile.getContext('2d');
  c.strokeStyle = '#000';
  c.lineCap = 'square';
  c.lineWidth = 3.8;
  [-size, 0, size].forEach(d => { c.beginPath(); c.moveTo(d, 0); c.lineTo(d + size, size); c.stroke(); });
  c.lineWidth = 2.4;
  [-size, 0, size].forEach(d => { c.beginPath(); c.moveTo(d + size, 0); c.lineTo(d, size); c.stroke(); });
  return ctx.createPattern(tile, 'repeat');
}

const mapCanvas = document.getElementById('panelE');
const KARST = hatchPattern(mapCanvas.getContext('2d'));
const LON_MIN = 91.55, LON_MAX = 112.67, LAT_MIN = 2.05, LAT_MAX = 32.81;

const closed = pts => [...pts, pts[0]];
function area(pts, fillColor, edgeColor, edgeWidth) {
  return {
    data: closed(pts), showLine: true, fill: 'shape', pointRadius: 0,
    backgroundColor: fillColor, borderColor: edgeColor || 'transparent', borderWidth: edgeWidth || 0,
    borderJoinStyle: 'round'
  };
}
function stroke(pts, width) {
  return {
    data: pts, showLine: true, fill: false, pointRadius: 0,
    borderColor: '#000', borderWidth: width, borderJoinStyle: 'round', borderCapStyle: 'round'
  };
}
// white sea: outer frame then the coast, so the land is left as a hole
const seaMask = [
  landOutline[0], [LON_MIN, landOutline[0][1]], [LON_MIN, LAT_MIN], [LON_MAX, LAT_MIN], [LON_MAX, LAT_MAX],
  [LON_MIN, LAT_MAX], [LON_MIN, landOutline[0][1]], ...landOutline
];

// painter's order, first one at the bottom
const mapLayers = [
  area(landOutline, CREAM),
  ...noFreqAreas.map(p => area(p, GREY)),
  ...lowOnGrey.map(p => area(p, CREAM)),
  ...highAreas.map(p => area(p, RED, ORANGE, 6)),
  ...mediumAreas.map(p => area(p, ORANGE)),
  ...highInner.map(p => area(p, RED)),
  ...lowInHigh.map(p => area(p, CREAM, ORANGE, 6)),
  ...noFreqPatches.map(p => area(p, GREY)),
  area(noDataPatch, '#fff'),
  ...karstAreas.map(p => area(p, KARST)),
  area(seaMask, '#fff'),
  ...countryLines.map(p => stroke(p, 4)),
  stroke(closed(landOutline), 5),
  ...coastClutter.map((p, i) => stroke(p, coastClutterWidths[i])),
  { data: islands, pointRadius: 6, pointBackgroundColor: '#000', pointBorderWidth: 0, showLine: false }
];
mapLayers.forEach((d, i) => { d.order = mapLayers.length - i; });

const mapDecor = {
  id: 'mapDecor',
  afterDraw(chart) {
    const ctx = chart.ctx, a = chart.chartArea;
    const sx = chart.scales.x, sy = chart.scales.y;
    ctx.save();
    ctx.strokeStyle = '#000';
    ctx.lineWidth = 4;
    ctx.strokeRect(a.left, a.top, a.right - a.left, a.bottom - a.top);

    ctx.fillStyle = '#000';
    ctx.textAlign = 'center';
    ctx.textBaseline = 'middle';
    ctx.font = 'italic bold 66px ' + SERIF;
    placeNames.forEach((n, i) => ctx.fillText(n, sx.getPixelForValue(placeLon[i]), sy.getPixelForValue(placeLat[i])));

    ctx.font = '66px ' + SERIF;
    ctx.fillText('(e)', 1990, 193);

    // north arrow
    ctx.font = '58px "Liberation Sans"';
    ctx.textBaseline = 'alphabetic';
    ctx.fillText('N', 3295, 2419);
    ctx.beginPath();
    ctx.moveTo(3294, 2431); ctx.lineTo(3251, 2579); ctx.lineTo(3294, 2524);
    ctx.closePath(); ctx.fill();
    ctx.lineWidth = 3.5;
    ctx.lineJoin = 'miter';
    ctx.beginPath();
    ctx.moveTo(3294, 2431); ctx.lineTo(3338, 2577); ctx.lineTo(3294, 2524);
    ctx.stroke();

    // scale bar
    const stops = [2994, 3030, 3062, 3099, 3130, 3268, 3401, 3538];
    const labelX = [2995, 3062, 3131, 3265, 3400, 3536];
    ctx.fillStyle = '#000';
    ctx.fillRect(stops[0], 2658, stops[7] - stops[0], 23);
    ctx.fillStyle = '#fff';
    [1, 3, 5].forEach(i => ctx.fillRect(stops[i], 2662, stops[i + 1] - stops[i], 15));
    ctx.fillStyle = '#000';
    ctx.font = '38px ' + SERIF;
    ctx.textBaseline = 'middle';
    scaleBarLabels.forEach((t, i) => ctx.fillText(t, labelX[i], 2628));
    ctx.textAlign = 'left';
    ctx.font = '39px ' + SERIF;
    ctx.fillText('Miles', 3547, 2668);
    ctx.restore();
  }
};

new Chart(mapCanvas, {
  type: 'scatter',
  data: { datasets: mapLayers },
  options: {
    responsive: false,
    animation: false,
    devicePixelRatio: 1,
    layout: { padding: { left: 0, top: 0, right: 50, bottom: 52 } },
    plugins: {
      tooltip: { enabled: false },
      legend: {
        position: 'chartArea',
        align: 'start',
        labels: {
          boxWidth: 92, boxHeight: 47, padding: 26, font: { family: SERIF, size: 66 },
          generateLabels: () => mapLegendNames.map((text, i) => ({
            text,
            fillStyle: [KARST, GREY, CREAM, ORANGE, RED][i],
            strokeStyle: '#8a8a8a',
            lineWidth: i === 0 ? 0 : 2,
            fontColor: '#000',
            textAlign: 'left',
            hidden: false
          }))
        }
      }
    },
    scales: {
      x: {
        type: 'linear', position: 'top', min: LON_MIN, max: LON_MAX,
        afterFit: s => { s.height = 103; },
        grid: { display: false, drawTicks: false },
        border: { display: false },
        afterBuildTicks: s => { s.ticks = lonTicks.map(value => ({ value })); },
        ticks: {
          autoSkip: false, maxRotation: 0, padding: 14, color: '#000', font: { family: SERIF, size: 66 },
          callback: v => v + '°0\'0"E'
        }
      },
      y: {
        type: 'linear', min: LAT_MIN, max: LAT_MAX,
        afterFit: s => { s.width = 1898; },
        grid: { display: false, drawTicks: false },
        border: { display: false },
        afterBuildTicks: s => { s.ticks = latTicks.map(value => ({ value })); },
        ticks: {
          autoSkip: false, minRotation: 90, maxRotation: 90, crossAlign: 'center', padding: -58,
          color: '#000', font: { family: SERIF, size: 67 },
          callback: v => v + '°0\'0"N'
        }
      }
    }
  },
  plugins: [
    placeLegend(1894, 2232),
    tickMarks([
      { axis: 'x', edge: 'top', long: 18, short: 18 }, { axis: 'x', edge: 'bottom', long: 18, short: 18 },
      { axis: 'y', edge: 'left', long: 18, short: 18 }, { axis: 'y', edge: 'right', long: 18, short: 18 }
    ]),
    mapDecor
  ]
});
</script>
</body>
</html>
